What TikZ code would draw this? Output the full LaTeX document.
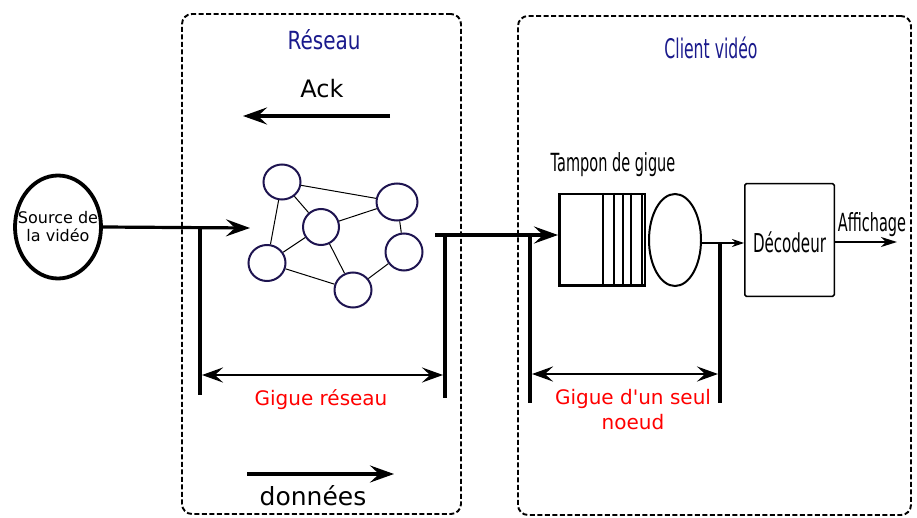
\documentclass[tikz,border=0pt]{standalone}
\usepackage{fontspec}
\setmainfont{DejaVu Sans}
\newfontfamily\dvplain{DejaVu Sans}
\newfontfamily\cond[FakeStretch=0.58]{DejaVu Sans}
\newfontfamily\condr[FakeStretch=0.8]{DejaVu Sans}
\usetikzlibrary{arrows.meta,shapes.geometric}
\definecolor{navytxt}{RGB}{26,26,140}
\definecolor{netblue}{RGB}{30,20,80}
\definecolor{gred}{RGB}{255,0,0}
\tikzset{
 groupbox/.style={draw, line width=1.9pt, dash pattern=on 5pt off 2.5pt, rounded corners=10pt, inner sep=0pt},
 bigarrow/.style={line width=3.2pt, -{Stealth[length=24pt,width=17pt,inset=9pt]}},
 vbar/.style={line width=4.5pt},
 giguearrow/.style={line width=2.7pt, {Stealth[length=21pt,width=15pt,inset=8pt]}-{Stealth[length=21pt,width=15pt,inset=8pt]}},
 netnode/.style={ellipse, draw=netblue, line width=2pt, inner sep=0pt},
 netedge/.style={line width=1pt},
 smallarrow/.style={line width=1.5pt, -{Stealth[length=12pt,width=8pt,inset=4pt]}},
 midarrow/.style={line width=2pt, -{Stealth[length=16pt,width=10pt,inset=5pt]}},
 lbl/.style={inner sep=0pt, anchor=base},
}
\begin{document}
\begin{tikzpicture}[x=1pt,y=-1pt]
\useasboundingbox (0,0) rectangle (917,518);
% group boxes
\node[groupbox, minimum width=279pt, minimum height=500pt] (reseau) at (321.5,264) {};
\node[groupbox, minimum width=393pt, minimum height=499pt] (client) at (714.5,265.5) {};
% titles
\node[lbl, text=navytxt, font=\condr\fontsize{25}{28}\selectfont] (tres) at (324,50) {Réseau};
\node[lbl, text=navytxt, font=\cond\fontsize{27}{30}\selectfont] (tcli) at (711,59) {Client vidéo};
% Ack
\node[lbl, font=\fontsize{24}{28}\selectfont] (ack) at (322,98) {Ack};
\coordinate (ackS) at (390,116);
\coordinate (ackE) at (243,116);
\draw[bigarrow] (ackS) -- (ackE);
% données
\coordinate (donS) at (247,474);
\coordinate (donE) at (394,474);
\draw[bigarrow] (donS) -- (donE);
\node[lbl, font=\fontsize{25}{28}\selectfont] (don) at (313,505) {données};
% source
\node[ellipse, draw, line width=3.8pt, minimum width=86pt, minimum height=103pt, inner sep=0pt,
  label={[align=center, inner sep=0pt, font=\fontsize{16}{18}\selectfont]center:Source de\\la vidéo}] (src) at (58,227) {};
\coordinate (netin) at (250,228);
\draw[bigarrow] (src.east) -- (netin);
% network
\node[netnode, minimum width=37pt, minimum height=35pt] (c1) at (282,182) {};
\node[netnode, minimum width=36pt, minimum height=36pt] (c2) at (321,227) {};
\node[netnode, minimum width=41pt, minimum height=37pt] (c3) at (397,202) {};
\node[netnode, minimum width=37pt, minimum height=36pt] (c4) at (267,263) {};
\node[netnode, minimum width=37pt, minimum height=37pt] (c5) at (404,252) {};
\node[netnode, minimum width=37pt, minimum height=35pt] (c6) at (353,290) {};
\draw[netedge] (c1) -- (c3);
\draw[netedge] (c1) -- (c2);
\draw[netedge] (c1) -- (c4);
\draw[netedge] (c2) -- (c3);
\draw[netedge] (c2) -- (c4);
\draw[netedge] (c2) -- (c6);
\draw[netedge] (c3) -- (c5);
\draw[netedge] (c5) -- (c6);
\draw[netedge] (c4) -- (c6);
% bars
\coordinate (b1t) at (200,228);
\coordinate (b1b) at (200,395);
\coordinate (b2t) at (445,235);
\coordinate (b2b) at (445,398);
\coordinate (b3t) at (530,237);
\coordinate (b3b) at (530,403);
\coordinate (b4t) at (720,243);
\coordinate (b4b) at (720,403);
\draw[vbar] (b1t) -- (b1b);
\draw[vbar] (b2t) -- (b2b);
\draw[vbar] (b3t) -- (b3b);
\draw[vbar] (b4t) -- (b4b);
% jitter arrows
\coordinate (g1a) at (202,375);
\coordinate (g1b) at (443,375);
\coordinate (g2a) at (532,374);
\coordinate (g2b) at (718,374);
\draw[giguearrow] (g1a) -- (g1b);
\draw[giguearrow] (g2a) -- (g2b);
\node[lbl, text=gred, font=\fontsize{20}{24}\selectfont] (gr) at (321,405) {Gigue réseau};
\node[inner sep=0pt, align=center, text=gred, font=\dvplain\fontsize{20}{25}\selectfont] (gn) at (633,410) {Gigue d'un seul\\noeud};
% tampon
\node[draw, line width=2.5pt, minimum width=85.5pt, minimum height=91.5pt, inner sep=0pt] (tamp) at (602,240) {};
\draw[line width=2pt] (603,193) -- (603,287);
\draw[line width=2pt] (614,193) -- (614,287);
\draw[line width=2pt] (623,193) -- (623,287);
\draw[line width=2pt] (631,193) -- (631,287);
\draw[line width=2pt] (642,193) -- (642,287);
\node[lbl, font=\cond\fontsize{25}{28}\selectfont] (ttamp) at (613,172) {Tampon de gigue};
\node[ellipse, draw, line width=2pt, minimum width=52pt, minimum height=92pt, inner sep=0pt] (ell) at (675,240) {};
\coordinate (outst) at (435,235);
\draw[bigarrow] (outst) -- ([yshift=5pt]tamp.west);
% decoder
\node[draw, line width=1.5pt, rounded corners=1.5pt, minimum width=89.5pt, minimum height=112.5pt, inner sep=0pt, text height=26pt, text depth=0pt, font=\cond\fontsize{26}{28}\selectfont] (dec) at (789.5,240) {Décodeur};
\draw[smallarrow] ([yshift=-3pt]ell.east) -- ([yshift=-3pt]dec.west);
\coordinate (aff) at (897,242);
\draw[midarrow] ([yshift=-2pt]dec.east) -- (aff);
\node[lbl, font=\cond\fontsize{25}{28}\selectfont] (taff) at (872,232) {Affichage};
\end{tikzpicture}
\end{document}
